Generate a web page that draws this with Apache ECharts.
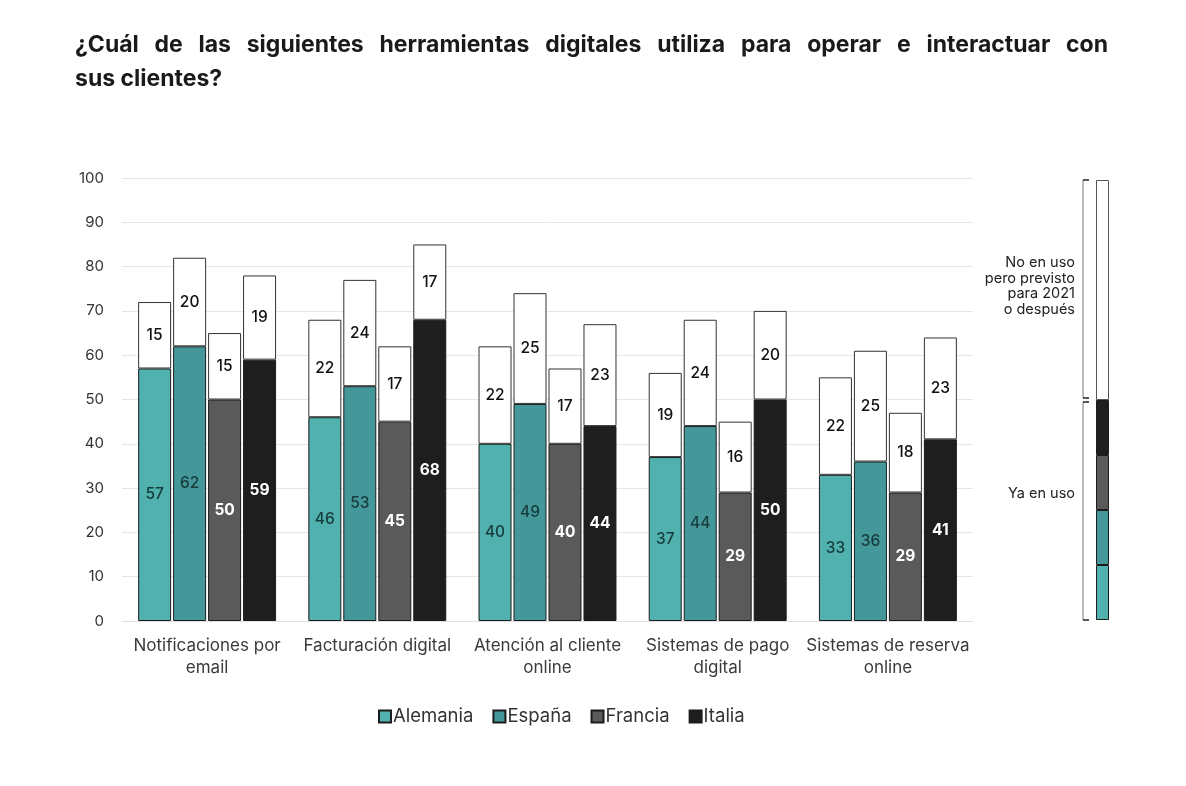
<!DOCTYPE html>
<html><head><meta charset="utf-8">
<script src="https://cdn.jsdelivr.net/npm/echarts@6/dist/echarts.min.js"></script>
<style>html,body{margin:0;padding:0;background:#fff}#c{width:1186px;height:786px}</style>
</head><body><div id="c"></div>
<script>
const titleLine1 = '¿Cuál de las siguientes herramientas digitales utiliza para operar e interactuar con';
const titleLine2 = 'sus clientes?';
const categories = ['Notificaciones por\nemail', 'Facturación digital', 'Atención al cliente\nonline', 'Sistemas de pago\ndigital', 'Sistemas de reserva\nonline'];
const countries = ['Alemania', 'España', 'Francia', 'Italia'];
const alemaniaEnUso = [57, 46, 40, 37, 33];
const alemaniaPrevisto = [15, 22, 22, 19, 22];
const espanaEnUso = [62, 53, 49, 44, 36];
const espanaPrevisto = [20, 24, 25, 24, 25];
const franciaEnUso = [50, 45, 40, 29, 29];
const franciaPrevisto = [15, 17, 17, 16, 18];
const italiaEnUso = [59, 68, 44, 50, 41];
const italiaPrevisto = [19, 17, 23, 20, 23];
const keyValues = [12.5, 12.5, 12.5, 12.5, 50];
const keyLabels = ['No en uso\npero previsto\npara 2021\no después', 'Ya en uso'];

const FONT = 'Inter, "Noto Sans", sans-serif';
const colors = ['#50b1ae', '#45989a', '#5a5a5a', '#1e1e1e'];
const labelColors = ['#173c3c', '#173c3c', '#ffffff', '#ffffff'];
const labelWeights = [500, 500, 'bold', 'bold'];
const enUso = [alemaniaEnUso, espanaEnUso, franciaEnUso, italiaEnUso];
const previsto = [alemaniaPrevisto, espanaPrevisto, franciaPrevisto, italiaPrevisto];

const chart = echarts.init(document.getElementById('c'));

// Justified first title line
const TFONT = 'bold 23px ' + FONT;
const ctx = document.createElement('canvas').getContext('2d');
ctx.font = TFONT;
const words = titleLine1.split(' ');
const widths = words.map(w => ctx.measureText(w).width);
const x0 = 75, x1 = 1108;
const gap = (x1 - x0 - widths.reduce((a, b) => a + b, 0)) / (words.length - 1);
const graphics = [];
let cx = x0;
words.forEach((w, i) => {
  graphics.push({ type: 'text', x: cx, y: 45, style: { text: w, font: TFONT, fill: '#1a1a1a', textVerticalAlign: 'middle' } });
  cx += widths[i] + gap;
});
graphics.push({ type: 'text', x: x0, y: 79, style: { text: titleLine2, font: TFONT, fill: '#1a1a1a', textVerticalAlign: 'middle' } });
// key labels and brackets
graphics.push({ type: 'text', x: 1075, y: 286, style: { text: keyLabels[0], font: '14.5px ' + FONT, fill: '#222', align: 'right', verticalAlign: 'middle', lineHeight: 15.7 } });
graphics.push({ type: 'text', x: 1075, y: 494, style: { text: keyLabels[1], font: '14.5px ' + FONT, fill: '#222', align: 'right', verticalAlign: 'middle' } });
const br = (y1, y2) => [
  { type: 'line', shape: { x1: 1083, y1: y1, x2: 1083, y2: y2 }, style: { stroke: '#777', lineWidth: 1 } },
  { type: 'line', shape: { x1: 1083, y1: y1, x2: 1089, y2: y1 }, style: { stroke: '#222', lineWidth: 1.5 } },
  { type: 'line', shape: { x1: 1083, y1: y2, x2: 1089, y2: y2 }, style: { stroke: '#222', lineWidth: 1.5 } }
];
graphics.push(...br(180, 398), ...br(402, 620));

const series = [];
countries.forEach((c, i) => {
  series.push({
    name: c, type: 'bar', stack: c, data: enUso[i], barWidth: 33, barGap: '6%',
    itemStyle: { color: colors[i], borderColor: '#1c1c1c', borderWidth: 1 },
    label: { show: true, position: 'inside', color: labelColors[i], fontWeight: labelWeights[i], fontSize: 15.5, fontFamily: FONT }
  });
});
countries.forEach((c, i) => {
  series.push({
    name: c + ' previsto', type: 'bar', stack: c, data: previsto[i], barWidth: 33, barGap: '6%',
    itemStyle: { color: '#ffffff', borderColor: '#333', borderWidth: 1 },
    label: { show: true, position: 'inside', color: '#111', fontWeight: 500, fontSize: 15.5, fontFamily: FONT }
  });
});
const keyColors = colors.concat(['#ffffff']);
keyValues.forEach((v, i) => {
  series.push({
    name: 'key' + i, type: 'bar', stack: 'key', xAxisIndex: 1, yAxisIndex: 1, data: [v], barWidth: 13,
    itemStyle: { color: keyColors[i], borderColor: i === 4 ? '#555' : '#1c1c1c', borderWidth: 1 },
    silent: true
  });
});

chart.setOption({
  animation: false,
  backgroundColor: '#fff',
  textStyle: { fontFamily: FONT },
  graphic: graphics,
  legend: {
    data: countries, bottom: 55, left: 373, itemWidth: 12, itemHeight: 12, itemGap: 19,
    icon: 'rect', textStyle: { fontSize: 18.5, color: '#333', fontFamily: FONT, padding: [0, 0, 0, -3] }
  },
  grid: [
    { left: 122, right: 213, top: 178, bottom: 165 },
    { left: 1096, width: 13, top: 180, bottom: 166 }
  ],
  xAxis: [
    { type: 'category', data: categories, gridIndex: 0,
      axisLine: { show: true, lineStyle: { color: '#e0e0e0' } }, axisTick: { show: false },
      axisLabel: { fontSize: 17, color: '#3a3a3a', margin: 14, lineHeight: 22, interval: 0, fontFamily: FONT } },
    { type: 'category', data: ['k'], gridIndex: 1, show: false }
  ],
  yAxis: [
    { type: 'value', min: 0, max: 100, interval: 10, gridIndex: 0,
      axisLine: { show: false }, axisTick: { show: false },
      axisLabel: { fontSize: 15, color: '#333', margin: 18, fontFamily: FONT },
      splitLine: { lineStyle: { color: '#e6e6e6' } } },
    { type: 'value', min: 0, max: 100, gridIndex: 1, show: false, splitLine: { show: false } }
  ],
  series: series
});
</script></body></html>
